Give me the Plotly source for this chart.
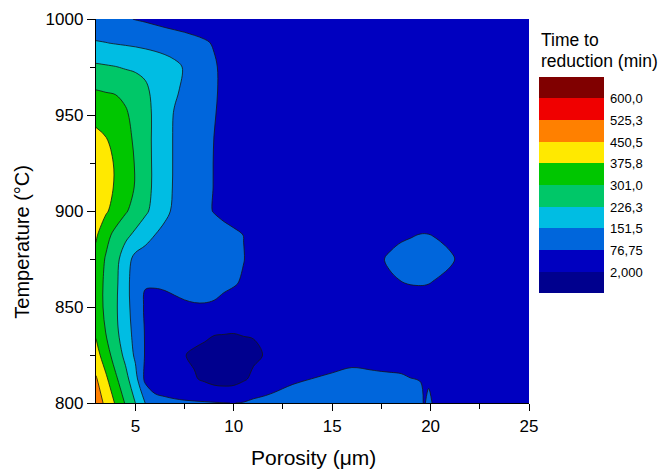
import plotly.graph_objects as go

FONT = "Liberation Sans, Arial, sans-serif"

# ---- data ----
porosity_um = [3, 3.5, 4, 4.5, 5, 5.5, 6, 6.5, 7, 7.5, 8, 8.5, 9, 9.5, 10, 10.5, 11, 11.5,
               12, 13, 14, 15, 16, 17, 17.5, 18, 18.5, 19, 19.5, 19.7, 19.9, 20.1, 20.5, 21, 21.5, 22, 23, 25]
temperature_c = [800, 812.5, 825, 837.5, 850, 862.5, 875, 887.5, 900, 912.5, 925, 937.5, 950, 962.5, 975, 987.5, 1000]

time_800 = [485, 437, 367, 294, 226, 151, 95, 92, 88, 85, 83, 82, 80, 78, 76, 80, 90, 95,
            100, 100, 100, 100, 100, 100, 100, 98, 95, 90, 88, 70, 110, 72, 60, 50, 45, 42, 40, 40]
time_812 = [458, 390, 313.5, 249, 177, 60, 48, 35, 24, 15, 8, -8, -25, -30, -25, -6, 15, 30,
            45, 70, 77.5, 88, 92, 92, 91, 90, 86, 78, 75, 60, 55, 50, 45, 40, 40, 40, 40, 40]
time_825 = [405, 334, 266.4, 208, 138, 72, 58, 42, 22, 4, -8, -14, -15, -16, -15, -12, -10, 3,
            15, 30, 38, 44, 60, 51, 46, 42, 45, 45, 42, 40, 40, 40, 40, 40, 40, 40, 40, 40]
time_837 = [362, 297.8, 241.3, 185.8, 127, 72, 62, 55, 45, 35, 25, 16, 6, 5, 4, 6, 8, 24,
            32, 38, 40, 40, 40, 40, 40, 40, 40, 40, 40, 40, 40, 40, 40, 40, 40, 40, 40, 40]
time_850 = [338, 286, 236.2, 176.4, 119.5, 68, 58, 61, 68, 72, 74, 74, 71.6, 60, 50, 45, 42, 40,
            40, 40, 40, 40, 40, 42, 44, 45, 48, 50, 50, 50, 50, 49, 47, 45, 43, 41, 40, 40]
time_862 = [340, 285.5, 239.9, 178.7, 110, 80, 82, 84, 86, 88, 89, 90, 90, 88, 82, 70, 52, 44,
            40, 40, 40, 40, 40, 45, 55, 70, 75.5, 79, 80, 79.5, 78, 75.5, 70, 62, 52, 46, 41, 40]
time_875 = [355, 294, 250, 185, 130, 115, 108, 104, 101, 99, 97, 96, 95, 92, 86, 78.5, 58, 46,
            40, 40, 40, 40, 45, 55, 73, 85, 92, 96, 97, 97, 96, 95, 92, 84, 68, 55, 45, 40]
time_887 = [385, 325.9, 278.2, 243.6, 211, 180.3, 151, 135, 126, 120, 115, 110, 105, 98, 88, 76, 55, 45,
            40, 40, 40, 40, 40, 45, 50, 62, 70, 74, 78.5, 79, 78, 76, 71, 62, 52, 46, 41, 40]
time_900 = [415, 384.8, 348.3, 309, 273.3, 238.8, 202.4, 165, 140.8, 124, 107.3, 90.5, 73.7, 60, 50, 43, 40, 40,
            40, 40, 40, 40, 40, 40, 40, 40, 40, 40, 40, 40, 40, 40, 40, 40, 40, 40, 40, 40]
time_912 = [425, 397.7, 368.7, 333.1, 296.6, 252.7, 211.3, 173.9, 144.5, 127.1, 109.7, 92.4, 75, 60, 50, 43, 40, 40,
            40, 40, 40, 40, 40, 40, 40, 40, 40, 40, 40, 40, 40, 40, 40, 40, 40, 40, 40, 40]
time_925 = [420, 395.7, 369.3, 333.4, 296.6, 252.7, 211.6, 175, 145.3, 128, 110.7, 93.4, 75, 60, 50, 43, 40, 40,
            40, 40, 40, 40, 40, 40, 40, 40, 40, 40, 40, 40, 40, 40, 40, 40, 40, 40, 40, 40]
time_937 = [395, 378.7, 351.7, 322.2, 289.9, 250.1, 211.6, 175, 145.3, 128, 110.7, 93.4, 76.1, 60, 50, 43, 40, 40,
            40, 40, 40, 40, 40, 40, 40, 40, 40, 40, 40, 40, 40, 40, 40, 40, 40, 40, 40, 40]
time_950 = [355, 352, 344, 310, 280, 246, 215, 180, 146, 125, 110, 96, 80, 62, 50, 43, 40, 40,
            40, 40, 40, 40, 40, 40, 40, 40, 40, 40, 40, 40, 40, 40, 40, 40, 40, 40, 40, 40]
time_962 = [304, 298, 293, 285, 275, 245, 200, 178, 160, 140, 121, 103, 85, 62, 50, 43, 40, 40,
            40, 40, 40, 40, 40, 40, 40, 40, 40, 40, 40, 40, 40, 40, 40, 40, 40, 40, 40, 40]
time_975 = [239, 233.6, 228.2, 220, 212, 203, 194, 183, 168, 146, 126, 105, 84, 62, 50, 43, 40, 40,
            40, 40, 40, 40, 40, 40, 40, 40, 40, 40, 40, 40, 40, 40, 40, 40, 40, 40, 40, 40]
time_987 = [156, 152.9, 148, 144, 140, 135, 129, 122, 114, 104, 94, 84, 72, 58, 48, 43, 40, 40,
            40, 40, 40, 40, 40, 40, 40, 40, 40, 40, 40, 40, 40, 40, 40, 40, 40, 40, 40, 40]
time_1000 = [110, 101, 92.5, 83.3, 74.4, 68, 60, 52, 46, 43, 40, 40, 40, 40, 40, 40, 40, 40,
             40, 40, 40, 40, 40, 40, 40, 40, 40, 40, 40, 40, 40, 40, 40, 40, 40, 40, 40, 40]

time_grid = [time_800, time_812, time_825, time_837, time_850, time_862, time_875, time_887,
             time_900, time_912, time_925, time_937, time_950, time_962, time_975, time_987, time_1000]

level_start = 2.0
level_step = 74.75
level_end = 600.0
level_values = [2, 76.75, 151.5, 226.25, 301, 375.75, 450.5, 525.25, 600]
level_labels = ["2,000", "76,75", "151,5", "226,3", "301,0", "375,8", "450,5", "525,3", "600,0"]
band_colors = ["#00008E", "#0000C0", "#0066DC", "#00BDE3", "#00C768", "#00C600",
               "#FFE900", "#FF8000", "#F00000", "#800000"]

# colour scale: one node per band, transparent half-bands beyond the outer levels
nodes = ["rgba(255,255,255,0)"] + band_colors + ["rgba(255,255,255,0)"]
colorscale = [[k / (len(nodes) - 1), c] for k, c in enumerate(nodes)]

W, H = 662, 469
ML, MR, MT, MB = 96, 133, 19, 66
PW, PH = W - ML - MR, H - MT - MB

def px_to_paper_x(px):
    return (px - ML) / PW

def py_to_paper_y(py):
    return (H - MB - py) / PH

bar_top, bar_bottom = 77.3, 294.0
band_px = (bar_bottom - bar_top) / len(band_colors)
bar_len = (bar_bottom - bar_top) + band_px  # includes two invisible half bands
bar_full_top = bar_top - band_px / 2

fig = go.Figure()
fig.add_trace(go.Contour(
    x=porosity_um, y=temperature_c, z=time_grid,
    autocontour=False,
    contours=dict(start=level_start - level_step, end=level_end + level_step, size=level_step,
                  coloring="fill", showlines=False),
    line=dict(width=0, smoothing=1),
    colorscale=colorscale,
    hoverinfo="skip",
    colorbar=dict(
        xref="paper", yref="paper",
        x=px_to_paper_x(538.5), xanchor="left", xpad=0,
        y=py_to_paper_y(bar_full_top), yanchor="top", ypad=0,
        len=bar_len, lenmode="pixels",
        thickness=65, thicknessmode="pixels",
        outlinewidth=0, borderwidth=0,
        tickvals=level_values, ticktext=level_labels,
        ticks="outside", ticklen=4, tickcolor="rgba(0,0,0,0)",
        tickfont=dict(size=13, color="black", family=FONT),
    ),
))
fig.add_trace(go.Contour(
    x=porosity_um, y=temperature_c, z=time_grid,
    autocontour=False,
    contours=dict(start=level_start, end=level_end, size=level_step, coloring="none", showlines=True),
    line=dict(color="#151515", width=0.8, smoothing=1),
    showscale=False,
    hoverinfo="skip",
))

axis_common = dict(
    ticks="outside", tickwidth=1.3, tickcolor="black",
    showline=True, linecolor="black", linewidth=1.3,
    showgrid=False, zeroline=False, mirror=False,
    tickfont=dict(size=17, color="black", family=FONT),
)
fig.update_xaxes(range=[3, 25], tick0=0, dtick=5, ticklen=7,
                 minor=dict(tick0=0, dtick=2.5, ticks="outside", ticklen=5, tickwidth=1.3,
                            tickcolor="black", showgrid=False),
                 **axis_common)
fig.update_yaxes(range=[800, 1000], tick0=0, dtick=50, ticklen=8,
                 minor=dict(tick0=0, dtick=25, ticks="outside", ticklen=5, tickwidth=1.3,
                            tickcolor="black", showgrid=False),
                 **axis_common)

annotations = [
    dict(text="Porosity (\u03bcm)", x=px_to_paper_x(313), y=py_to_paper_y(457.5),
         xanchor="center", yanchor="middle", font=dict(size=21)),
    dict(text="Temperature (\u00b0C)", x=px_to_paper_x(21.7), y=py_to_paper_y(242),
         xanchor="center", yanchor="middle", textangle=-90, font=dict(size=20)),
    dict(text="Time to", x=px_to_paper_x(539), y=py_to_paper_y(40),
         xanchor="left", yanchor="middle", font=dict(size=17.5)),
    dict(text="reduction (min)", x=px_to_paper_x(538.5), y=py_to_paper_y(60.6),
         xanchor="left", yanchor="middle", font=dict(size=17.5)),
]
for a in annotations:
    a.update(xref="paper", yref="paper", showarrow=False)
    a["font"].update(color="black", family=FONT)

fig.update_layout(
    width=W, height=H,
    margin=dict(l=ML, r=MR, t=MT, b=MB, pad=0, autoexpand=False),
    paper_bgcolor="white", plot_bgcolor="white",
    showlegend=False,
    font=dict(family=FONT, color="black"),
    annotations=annotations,
)

fig.write_html("out.html")
